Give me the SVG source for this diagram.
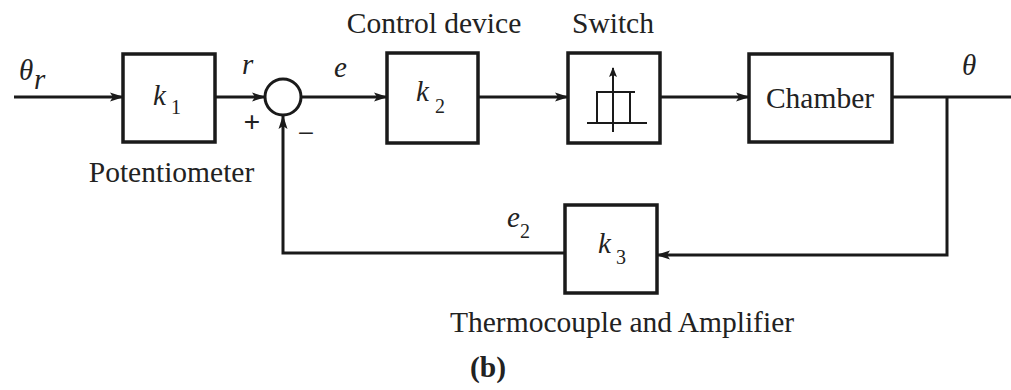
<svg xmlns="http://www.w3.org/2000/svg" width="1011" height="390" viewBox="0 0 1011 390">
<style>
.box{fill:#fff;stroke:#1a1a1a;stroke-width:3.5}
.ln{fill:none;stroke:#1a1a1a;stroke-width:3}
.thin{fill:none;stroke:#1a1a1a;stroke-width:2}
.lbl{font-family:"Liberation Serif","Times New Roman",serif;font-size:29.5px;fill:#222}
.m{font-family:"Liberation Serif","Times New Roman",serif;font-style:italic;font-size:29px;fill:#222}
.sub{font-family:"Liberation Serif","Times New Roman",serif;font-size:20px;fill:#222}
</style>
<defs>
<marker id="ah" markerWidth="14" markerHeight="10" refX="13" refY="5" orient="auto" markerUnits="userSpaceOnUse">
<path d="M0,0.5 L14,5 L0,9.5 L3,5 z" fill="#1a1a1a"/>
</marker>
<marker id="ah2" markerWidth="10" markerHeight="8" refX="9" refY="4" orient="auto" markerUnits="userSpaceOnUse">
<path d="M0,0 L10,4 L0,8 L2,4 z" fill="#1a1a1a"/>
</marker>
</defs>
<rect width="1011" height="390" fill="#fff"/>
<g id="connectors">
<line class="ln" x1="14" y1="97" x2="123" y2="97" marker-end="url(#ah)"/>
<line class="ln" x1="215" y1="97" x2="265" y2="97" marker-end="url(#ah)"/>
<line class="ln" x1="301" y1="97" x2="387" y2="97" marker-end="url(#ah)"/>
<line class="ln" x1="478" y1="97" x2="568" y2="97" marker-end="url(#ah)"/>
<line class="ln" x1="660" y1="97" x2="749" y2="97" marker-end="url(#ah)"/>
<line class="ln" x1="892" y1="97" x2="1011" y2="97"/>
<polyline class="ln" points="947,97 947,255 657,255" marker-end="url(#ah)"/>
<polyline class="ln" points="565,253 283,253 283,116" marker-end="url(#ah)"/>
</g>
<g id="k1">
<rect class="box" x="123" y="54" width="92" height="88"/>
<text class="m" x="153" y="105">k</text><text class="sub" x="171" y="114">1</text>
</g>
<g id="sum">
<circle cx="283" cy="97" r="18" fill="#fff" stroke="#1a1a1a" stroke-width="3"/>
<text class="lbl" x="252" y="132" text-anchor="middle" font-weight="bold" font-size="26">+</text>
<text class="lbl" x="306" y="143" text-anchor="middle" font-size="26">−</text>
</g>
<g id="k2">
<rect class="box" x="387" y="53" width="91" height="90"/>
<text class="m" x="416" y="101">k</text><text class="sub" x="435" y="113">2</text>
<text class="lbl" x="434" y="33" text-anchor="middle">Control device</text>
</g>
<g id="switch">
<rect class="box" x="568" y="53" width="92" height="90"/>
<line class="thin" x1="613" y1="132" x2="613" y2="68" marker-end="url(#ah2)"/>
<line class="thin" x1="587" y1="123" x2="647" y2="123"/>
<polyline class="thin" points="597,123 597,92 635,92"/>
<line class="thin" x1="630" y1="92" x2="630" y2="123"/>
<text class="lbl" x="613" y="33" text-anchor="middle">Switch</text>
</g>
<g id="chamber">
<rect class="box" x="749" y="54" width="143" height="88"/>
<text class="lbl" x="820" y="108" text-anchor="middle">Chamber</text>
</g>
<g id="k3">
<rect class="box" x="565" y="205" width="92" height="88"/>
<text class="m" x="598" y="253">k</text><text class="sub" x="616" y="264">3</text>
</g>
<g id="labels">
<text class="m" x="19" y="80" font-size="28">θ</text><text class="m" x="34" y="89" font-size="20">r</text>
<text class="m" x="242" y="74">r</text>
<text class="m" x="334" y="77">e</text>
<text class="m" x="507" y="227">e</text><text class="sub" x="520" y="238">2</text>
<text class="m" x="962" y="75" font-size="28">θ</text>
<text class="lbl" x="171.5" y="182" text-anchor="middle">Potentiometer</text>
<text class="lbl" x="450" y="332">Thermocouple and Amplifier</text>
<text class="lbl" x="470" y="377" font-weight="bold">(b)</text>
</g>
</svg>
